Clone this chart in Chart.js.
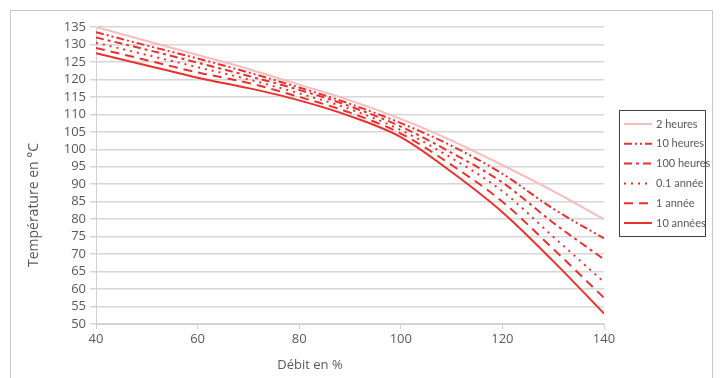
<!DOCTYPE html>
<html>
<head>
<meta charset="utf-8">
<script src="https://cdn.jsdelivr.net/npm/chart.js@4.4.1/dist/chart.umd.min.js"></script>
<style>
  html, body { margin: 0; padding: 0; background: #fff; }
  #wrap { width: 721px; height: 378px; }
</style>
</head>
<body>
<div id="wrap"><canvas id="myChart" width="721" height="378"></canvas></div>
<script>
// Débit (%) on the x axis
const debit = [40, 50, 60, 70, 80, 90, 100, 110, 120, 130, 140];

// Température (°C) per durée
const heures2   = [135, 131, 127, 123, 118.5, 114, 108.7, 102.5, 95.5, 88, 80];
const heures10  = [133.5, 129.7, 126, 122, 117.7, 113, 107.5, 101, 93, 83, 74.5];
const heures100 = [132, 128.5, 124.8, 121, 117, 112.3, 106.5, 99, 90.5, 79, 68.5];
const annee01   = [130.5, 127, 123.5, 120, 116, 111.5, 105.5, 97.5, 88, 75, 62];
const annee1    = [129, 125.5, 122, 119, 115, 110.5, 104.5, 95.5, 85, 71.5, 57.5];
const annees10  = [127.5, 124, 120.5, 117.5, 114, 109.5, 103.5, 93.5, 82, 68, 53];

const seriesNames = ['2 heures', '10 heures', '100 heures', '0.1 année', '1 année', '10 années'];
const xTitle = 'Débit en %';
const yTitle = 'Température en °C';

const red = '#e8312f';
const pink = '#f7bcbc';
const textColor = '#595959';

function toPoints(vals) {
    return vals.map((v, i) => ({ x: debit[i], y: v }));
}

function makeSet(label, vals, color, dash) {
    return {
        label: label,
        data: toPoints(vals),
        borderColor: color,
        backgroundColor: color,
        borderWidth: 2,
        borderDash: dash,
        pointRadius: 0,
        fill: false,
        cubicInterpolationMode: 'monotone'
    };
}

// Frame, axis titles and the boxed legend (placed like the Excel original)
const framePlugin = {
    id: 'frame',
    beforeDraw(chart) {
        const ctx = chart.ctx;
        ctx.save();
        ctx.strokeStyle = '#c8c8c8';
        ctx.lineWidth = 1;
        ctx.strokeRect(10.5, 10.5, 702, 400);
        ctx.restore();
    },
    afterDraw(chart) {
        const ctx = chart.ctx;
        ctx.save();
        // axis titles
        ctx.fillStyle = textColor;
        ctx.textAlign = 'center';
        ctx.textBaseline = 'middle';
        ctx.font = '13px "Open Sans", sans-serif';
        ctx.fillText(xTitle, 310, 365);
        ctx.save();
        ctx.translate(34, 205);
        ctx.rotate(-Math.PI / 2);
        ctx.font = '14px "Open Sans", sans-serif';
        ctx.fillText(yTitle, 0, 0);
        ctx.restore();

        // legend
        const boxX = 619.5, boxY = 110.5, boxW = 86, boxH = 126;
        ctx.strokeStyle = '#404040';
        ctx.lineWidth = 1;
        ctx.strokeRect(boxX, boxY, boxW, boxH);
        ctx.font = '11px Lato, sans-serif';
        ctx.textAlign = 'left';
        chart.data.datasets.forEach((ds, i) => {
            const y = 124 + i * 19.8;
            ctx.strokeStyle = ds.borderColor;
            ctx.lineWidth = ds.borderWidth;
            ctx.setLineDash(ds.borderDash || []);
            ctx.beginPath();
            ctx.moveTo(624, y);
            ctx.lineTo(652, y);
            ctx.stroke();
            ctx.setLineDash([]);
            ctx.fillStyle = textColor;
            ctx.fillText(ds.label, 656, y);
        });
        ctx.restore();
    }
};

const ctx = document.getElementById('myChart').getContext('2d');
const myChart = new Chart(ctx, {
    type: 'line',
    data: {
        datasets: [
            makeSet(seriesNames[0], heures2, pink, []),
            makeSet(seriesNames[1], heures10, red, [8, 3, 2, 3, 2, 3]),
            makeSet(seriesNames[2], heures100, red, [8, 4, 3, 4]),
            makeSet(seriesNames[3], annee01, red, [2, 5]),
            makeSet(seriesNames[4], annee1, red, [9, 6]),
            makeSet(seriesNames[5], annees10, red, [])
        ]
    },
    options: {
        responsive: false,
        animation: false,
        layout: { padding: { left: 20, right: 117, top: 27, bottom: 0 } },
        plugins: {
            legend: { display: false },
            tooltip: { enabled: false }
        },
        scales: {
            x: {
                type: 'linear',
                min: 40,
                max: 140,
                ticks: { stepSize: 20, color: textColor, font: { family: 'Open Sans', size: 13 }, padding: 2 },
                grid: { drawOnChartArea: false, drawTicks: true, tickLength: 5, color: '#d0d0d0' },
                border: { color: '#d0d0d0' },
                afterFit(scale) { scale.height = 54; }
            },
            y: {
                min: 50,
                max: 135,
                ticks: { stepSize: 5, autoSkip: false, maxTicksLimit: 30, color: textColor, font: { family: 'Open Sans', size: 13 }, padding: 4 },
                grid: { color: '#d6d6d6', lineWidth: 1.5, tickLength: 6 },
                border: { color: '#d0d0d0' },
                afterFit(scale) { scale.width = 76; }
            }
        }
    },
    plugins: [framePlugin]
});
</script>
</body>
</html>
